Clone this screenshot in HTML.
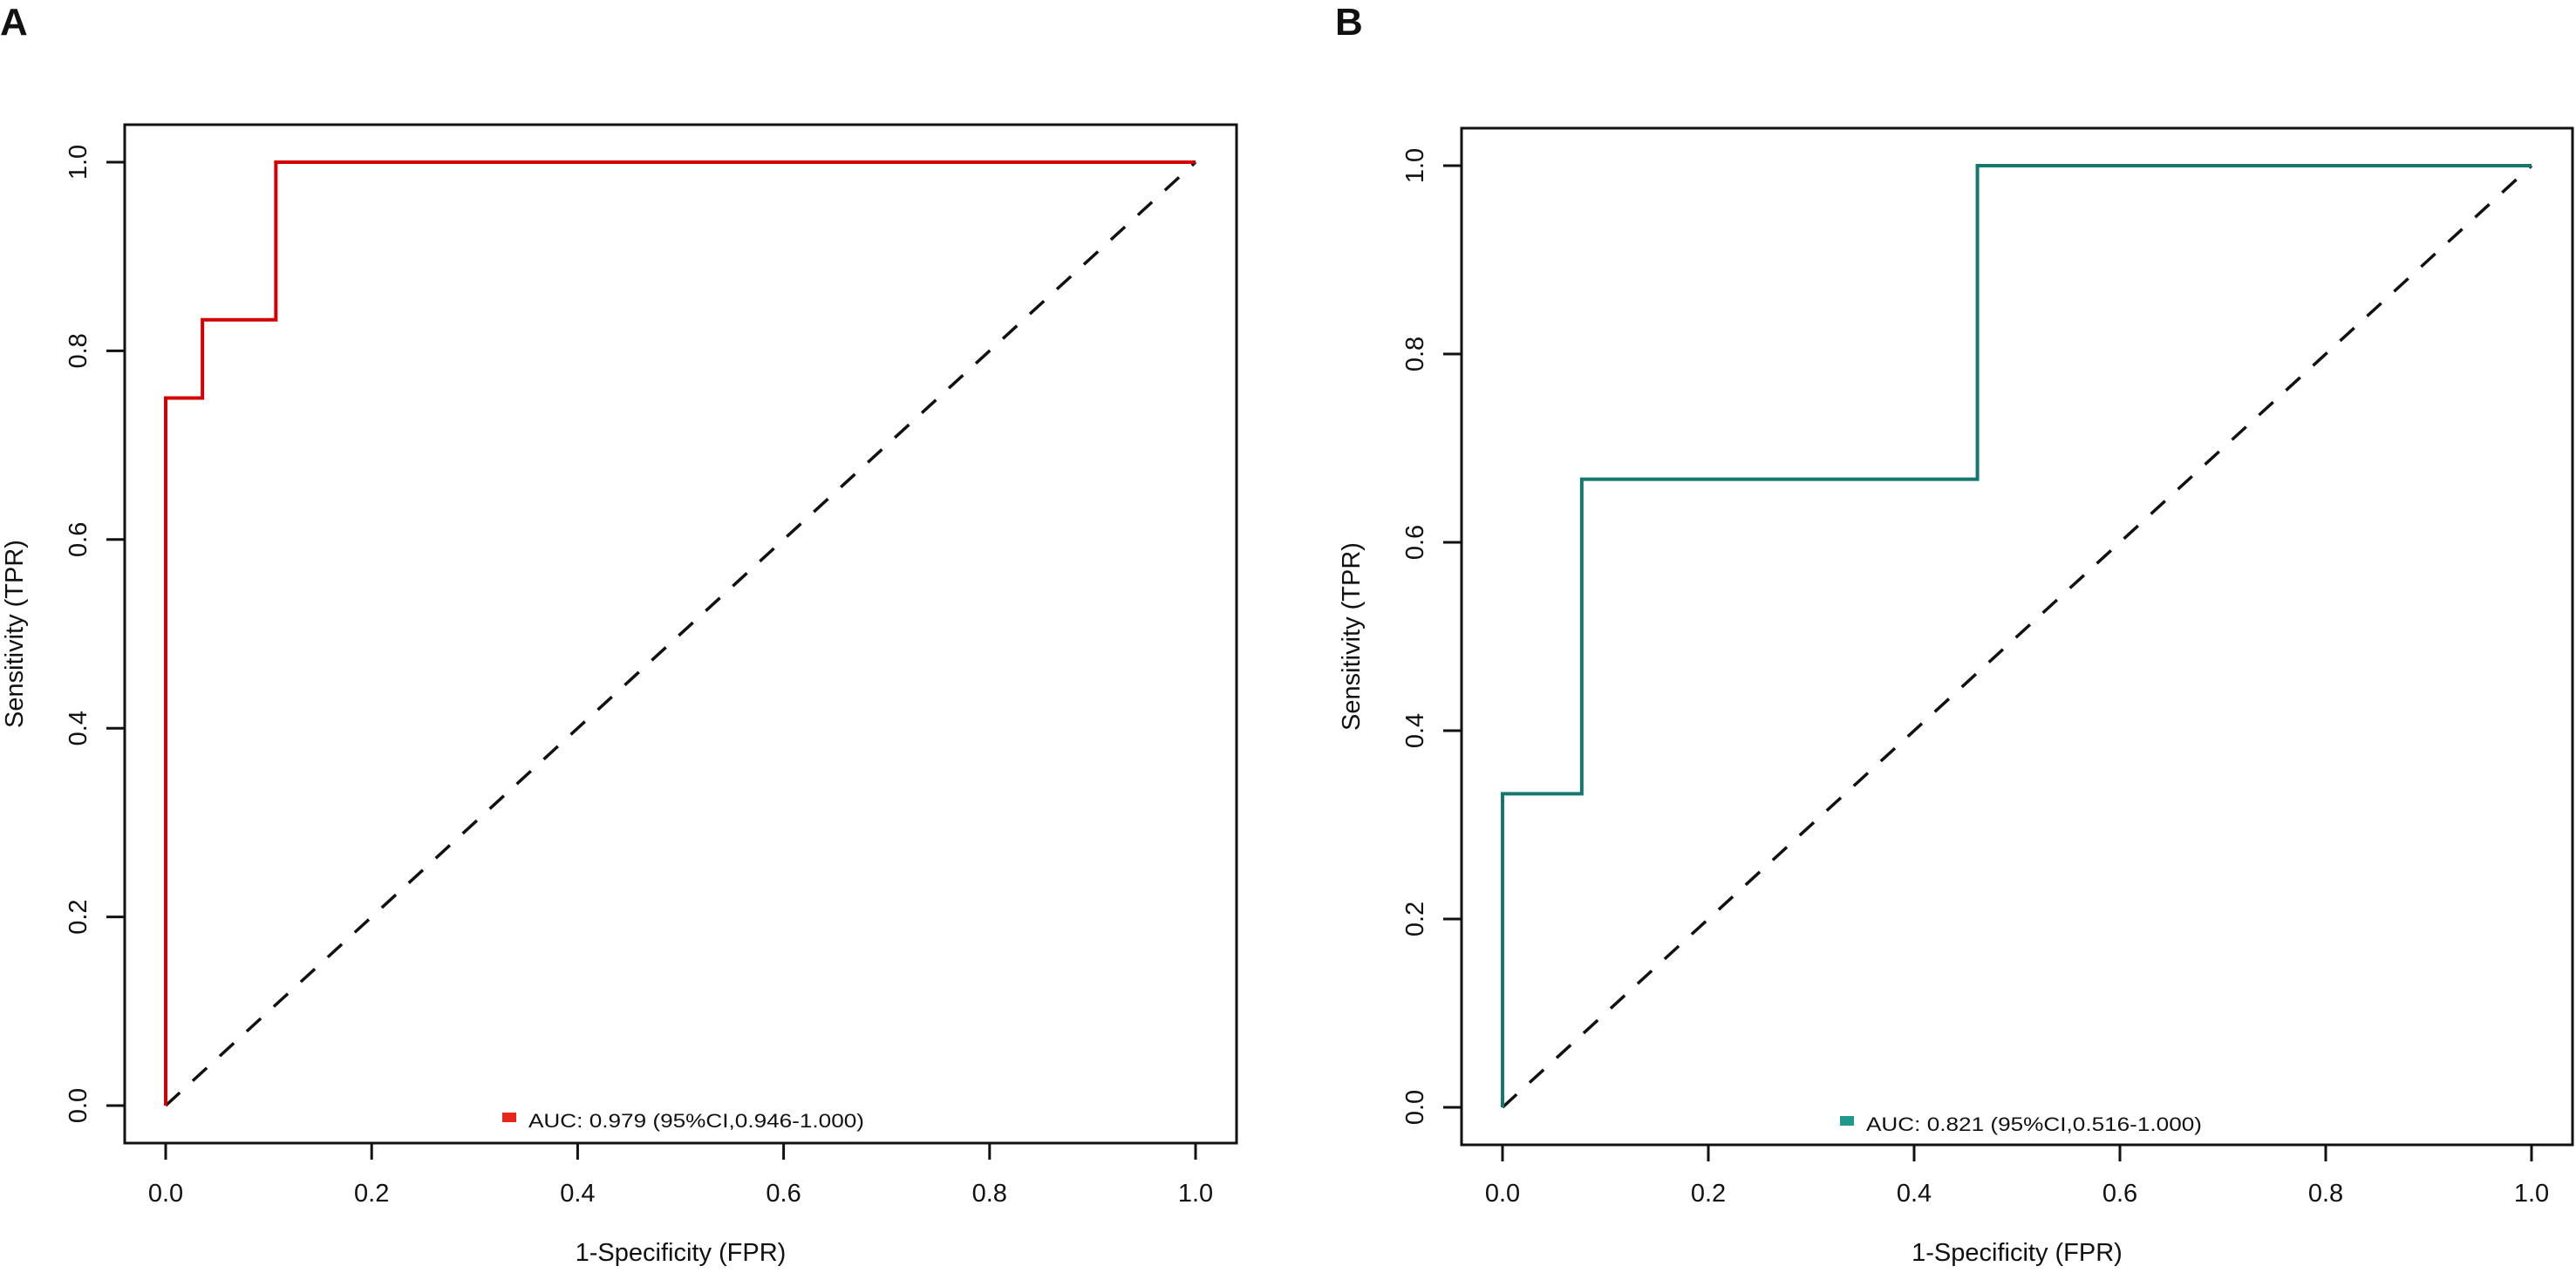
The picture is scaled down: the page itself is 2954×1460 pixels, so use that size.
<!DOCTYPE html>
<html>
<head>
<meta charset="utf-8">
<style>
html,body{margin:0;padding:0;background:#fff;}
svg{display:block;}
text{font-family:"Liberation Sans",Arial,sans-serif;fill:#111;}
</style>
</head>
<body>
<svg id="fig" width="2954" height="1460" viewBox="0 0 2954 1460" xmlns="http://www.w3.org/2000/svg"></svg>
<script>
// Panel A data
const fprA = [0, 0, 0.0357, 0.0357, 0.107, 0.107, 1];
const tprA = [0, 0.75, 0.75, 0.833, 0.833, 1, 1];
const legendA = "AUC: 0.979 (95%CI,0.946-1.000)";
// Panel B data
const fprB = [0, 0, 0.077, 0.077, 0.4615, 0.4615, 1];
const tprB = [0, 0.333, 0.333, 0.667, 0.667, 1, 1];
const legendB = "AUC: 0.821 (95%CI,0.516-1.000)";
const tickVals = [0, 0.2, 0.4, 0.6, 0.8, 1.0];
const tickLabels = ["0.0", "0.2", "0.4", "0.6", "0.8", "1.0"];

const NS = "http://www.w3.org/2000/svg";
const svg = document.getElementById('fig');
function mk(tag, attrs, parent) {
  const e = document.createElementNS(NS, tag);
  for (const k in attrs) e.setAttribute(k, attrs[k]);
  (parent || svg).appendChild(e);
  return e;
}

function panel(cfg) {
  const g = mk('g', {});
  
  
  const sx = v => cfg.x0 + v * (cfg.x1 - cfg.x0);
  const sy = v => cfg.y0 + v * (cfg.y1 - cfg.y0);

  const lab = mk('text', {x: cfg.labX, y: 40, 'font-size': 44, 'font-weight': 'bold'}, g);
  lab.textContent = cfg.letter;
  
  

  const box = mk('rect', {x: cfg.bl, y: cfg.bt, width: cfg.br - cfg.bl, height: cfg.bb - cfg.bt, fill: 'none', stroke: '#111', 'stroke-width': 3}, g);
  
  

  tickVals.forEach((v, i) => {
    const X = sx(v);
    const t = mk('line', {x1: X, x2: X, y1: cfg.bb, y2: cfg.bb + 19, stroke: '#111', 'stroke-width': 3}, g);
    
    
    const tl = mk('text', {x: X, y: 1378, 'font-size': 29, 'text-anchor': 'middle'}, g);
    tl.textContent = tickLabels[i];
    
    
    const Y = sy(v);
    const yt = mk('line', {x1: cfg.bl - 21, x2: cfg.bl, y1: Y, y2: Y, stroke: '#111', 'stroke-width': 3}, g);
    
    
    const yl = mk('text', {x: 0, y: 0, 'font-size': 29, 'text-anchor': 'middle', transform: `translate(${cfg.bl - 44},${Y}) rotate(-90)`}, g);
    yl.textContent = tickLabels[i];
    
    
  });

  const xt = mk('text', {x: (cfg.bl + cfg.br) / 2, y: 1446, 'font-size': 29, 'text-anchor': 'middle'}, g);
  xt.textContent = '1-Specificity (FPR)';
  
  
  const yti = mk('text', {x: 0, y: 0, 'font-size': 29, 'text-anchor': 'middle', transform: `translate(${cfg.ytX},${(cfg.bt + cfg.bb) / 2}) rotate(-90)`}, g);
  yti.textContent = 'Sensitivity (TPR)';
  
  

  const diag = mk('line', {x1: sx(0), y1: sy(0), x2: sx(1), y2: sy(1), stroke: '#111', 'stroke-width': 3.5, 'stroke-dasharray': '22 20'}, g);
  
  

  const pts = cfg.fpr.map((f, i) => sx(f) + ',' + sy(cfg.tpr[i])).join(' ');
  const curve = mk('polyline', {points: pts, fill: 'none', stroke: cfg.color, 'stroke-width': 4}, g);
  
  

  const lg = mk('g', {}, g);
  
  
  const sq = mk('rect', {x: cfg.legX, y: cfg.legY - 17, width: 16, height: 11, fill: cfg.legColor}, lg);
  
  
  const lt = mk('text', {x: cfg.legX + 30, y: cfg.legY, 'font-size': 22, textLength: 385, lengthAdjust: 'spacingAndGlyphs'}, lg);
  lt.textContent = cfg.legend;
  
  
}

panel({name: 'panel-a', letter: 'A', labX: 0, bl: 143, bt: 143, br: 1418, bb: 1311,
  x0: 190, x1: 1371, y0: 1268, y1: 186, ytX: 26, fpr: fprA, tpr: tprA,
  color: '#d40000', legColor: '#e8261a', legX: 576, legY: 1293, legend: legendA});
panel({name: 'panel-b', letter: 'B', labX: 1531, bl: 1676, bt: 147, br: 2950, bb: 1313,
  x0: 1723, x1: 2903, y0: 1270, y1: 190, ytX: 1559, fpr: fprB, tpr: tprB,
  color: '#14786e', legColor: '#1f9a8a', legX: 2110, legY: 1297, legend: legendB});
</script>
</body>
</html>
